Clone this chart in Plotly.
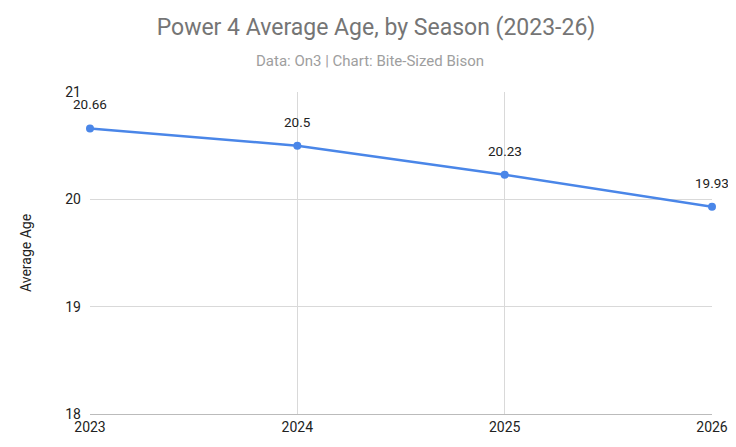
import plotly.graph_objects as go

seasons = ["2023", "2024", "2025", "2026"]
avg_age = [20.66, 20.5, 20.23, 19.93]
labels = ["20.66", "20.5", "20.23", "19.93"]

xs = list(range(len(seasons)))
fig = go.Figure(go.Scatter(
    x=xs, y=avg_age, mode="lines+markers",
    line=dict(color="#4a86e8", width=2.5), marker=dict(size=8, color="#4a86e8"),
    cliponaxis=False, hoverinfo="skip"))
for x, y, t in zip(xs, avg_age, labels):
    fig.add_annotation(x=x, y=y, text=t, showarrow=False, yshift=24,
                       font=dict(size=13.5, color="#222"))
fig.add_annotation(xref="paper", yref="paper", x=0.45, y=1.096, yanchor="middle",
                   text="Data: On3 | Chart: Bite-Sized Bison", showarrow=False,
                   font=dict(size=15, color="#9e9e9e"))

fig.update_layout(
    width=736, height=447, paper_bgcolor="white", plot_bgcolor="white",
    margin=dict(l=82, r=32, t=84, b=41),
    font=dict(family="Roboto, Arial, sans-serif", color="#222"),
    title=dict(text="Power 4 Average Age, by Season (2023-26)",
               x=0.5, xanchor="center", y=0.957, yanchor="middle",
               font=dict(size=23, color="#757575")),
    showlegend=False,
)
fig.update_xaxes(tickvals=xs, ticktext=seasons, range=[0, 3],
                 showgrid=True, gridcolor="#d9d9d9", zeroline=False, showline=True,
                 linecolor="#bbb", tickfont=dict(size=14), ticks="")
fig.update_yaxes(range=[18, 21], tickvals=[18, 19, 20, 21], showgrid=True, gridcolor="#d9d9d9",
                 zeroline=False, tickfont=dict(size=14), ticks="", ticklabelstandoff=8,
                 title=dict(text="Average Age", font=dict(size=14), standoff=30))
fig.write_html("out.html")
